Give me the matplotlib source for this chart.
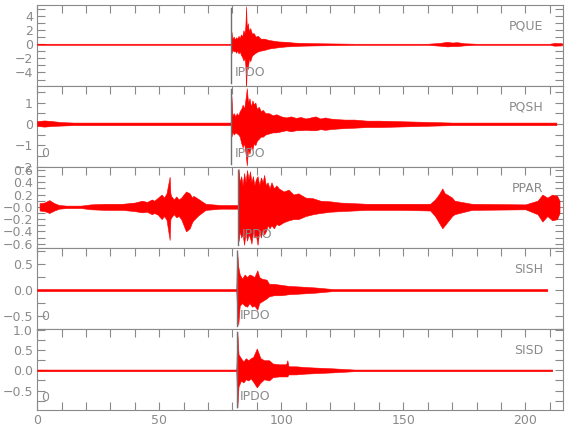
import matplotlib
matplotlib.use('Agg')
import matplotlib.pyplot as plt
from matplotlib.ticker import MultipleLocator

plt.rcParams['font.family'] = ['Liberation Sans Narrow', 'DejaVu Sans']

# estaciones (de arriba hacia abajo)
estaciones = ['PQUE', 'PQSH', 'PPAR', 'SISH', 'SISD']
pick = [79.5, 79.5, 82.4, 81.7, 81.7]  # tiempo de la lectura IPDO (s)

# envolvente de cada traza: tiempo, maximo, minimo
t_pque = [0, 79.3, 79.6, 80.0, 80.5, 81.0, 81.5, 82.0, 82.5, 83.0, 83.5, 84.0, 84.5, 85.0, 85.3, 85.6, 85.9, 86.3, 86.8, 87.3,
          88, 88.7, 89.5, 90.5, 91.5, 93, 95, 97, 99, 102, 105, 108, 115, 130, 160, 165, 168, 170, 172, 175, 180, 210, 212, 215]
up_pque = [0.08, 0.08, 1.8, 0.8, 1.1, 0.7, 1.0, 0.8, 1.2, 0.9, 1.4, 1.1, 2.0, 1.6, 2.6, 5.4, 2.2, 3.0, 1.8, 2.3,
           1.5, 1.6, 1.1, 1.2, 0.8, 0.8, 0.6, 0.5, 0.4, 0.35, 0.25, 0.2, 0.15, 0.08, 0.08, 0.2, 0.35, 0.25, 0.3, 0.15, 0.08, 0.08, 0.2, 0.15]
lo_pque = [-0.08, -0.08, -1.3, -0.8, -1.0, -0.9, -1.2, -0.9, -1.3, -1.0, -1.5, -1.8, -2.3, -2.0, -3.0, -6.5, -2.8, -3.5, -2.0, -2.4,
           -1.6, -1.4, -1.2, -1.0, -0.9, -0.8, -0.6, -0.5, -0.4, -0.3, -0.25, -0.2, -0.15, -0.08, -0.08, -0.2, -0.3, -0.25, -0.25, -0.15, -0.08, -0.08, -0.2, -0.15]

t_pqsh = [0, 3, 6, 10, 15, 79.3, 79.6, 80.0, 80.6, 81.2, 81.8, 82.4, 83.0, 83.6, 84.2, 84.8, 85.4, 85.9, 86.4, 87.0,
          87.6, 88.2, 88.8, 89.4, 90.0, 90.8, 91.6, 92.5, 93.5, 95, 96.5, 98, 100, 102, 104, 106, 108, 110, 112, 114,
          116, 118, 120, 123, 126, 130, 135, 140, 150, 170, 212.7]
up_pqsh = [0.13, 0.16, 0.13, 0.08, 0.06, 0.06, 1.3, 0.4, 0.5, 0.35, 0.5, 0.4, 0.6, 0.7, 0.9, 0.7, 1.2, 1.67, 1.0, 1.2,
           0.8, 1.1, 0.9, 1.0, 0.7, 0.8, 0.6, 0.65, 0.5, 0.5, 0.4, 0.45, 0.35, 0.3, 0.35, 0.28, 0.32, 0.25, 0.3, 0.35,
           0.25, 0.3, 0.25, 0.22, 0.2, 0.2, 0.15, 0.15, 0.12, 0.06, 0.06]
lo_pqsh = [-0.1, -0.13, -0.1, -0.08, -0.06, -0.06, -0.6, -0.4, -0.5, -0.4, -0.45, -0.5, -0.6, -0.9, -1.1, -0.9, -1.4, -1.95, -1.2, -1.4,
           -1.0, -1.2, -0.9, -1.0, -0.8, -0.7, -0.6, -0.6, -0.5, -0.45, -0.4, -0.4, -0.35, -0.3, -0.35, -0.3, -0.3, -0.28, -0.3, -0.3,
           -0.25, -0.28, -0.25, -0.22, -0.2, -0.18, -0.15, -0.15, -0.12, -0.06, -0.06]

# PPAR en tres tramos: antes, evento principal, despues
t_ppar_a = [1, 3, 5, 7, 9, 12, 18, 22, 28, 35, 40, 43, 45, 47, 48, 49.5, 51, 52, 53, 54.3,
            54.6, 55, 56, 57, 58, 59, 60, 61, 62.5, 63.5, 64, 66, 69, 75]
up_ppar_a = [0.06, 0.07, 0.11, 0.06, 0.03, 0.02, 0.02, 0.04, 0.05, 0.05, 0.07, 0.1, 0.08, 0.12, 0.1, 0.15, 0.2, 0.15, 0.22, 0.49,
             0.22, 0.17, 0.12, 0.17, 0.12, 0.15, 0.2, 0.25, 0.22, 0.15, 0.18, 0.13, 0.05, 0.03]
lo_ppar_a = [-0.06, -0.07, -0.1, -0.06, -0.03, -0.02, -0.02, -0.04, -0.05, -0.05, -0.07, -0.09, -0.08, -0.12, -0.1, -0.13, -0.2, -0.15, -0.21, -0.54,
             -0.2, -0.17, -0.12, -0.17, -0.15, -0.2, -0.3, -0.4, -0.35, -0.25, -0.22, -0.14, -0.05, -0.03]
t_ppar_b = [82.2, 82.5, 83.0, 83.6, 84.2, 84.8, 85.4, 86.0, 86.6, 87.2, 87.8, 88.4, 89.0, 89.6, 90.3, 91.0, 91.7, 92.4, 93.0, 93.7,
            94.4, 95.2, 96, 97, 98, 99, 101, 103, 105, 107, 110, 113, 116, 120, 124]
up_ppar_b = [0.03, 0.62, 0.4, 0.5, 0.35, 0.55, 0.4, 0.6, 0.45, 0.58, 0.4, 0.5, 0.35, 0.45, 0.5, 0.35, 0.48, 0.4, 0.52, 0.35,
             0.4, 0.3, 0.4, 0.3, 0.35, 0.3, 0.25, 0.28, 0.2, 0.22, 0.15, 0.14, 0.1, 0.09, 0.07]
lo_ppar_b = [-0.03, -0.56, -0.4, -0.5, -0.45, -0.62, -0.4, -0.55, -0.45, -0.5, -0.6, -0.4, -0.5, -0.45, -0.62, -0.4, -0.5, -0.35, -0.45, -0.4,
             -0.3, -0.35, -0.3, -0.35, -0.28, -0.3, -0.25, -0.22, -0.2, -0.2, -0.15, -0.12, -0.1, -0.08, -0.07]
t_ppar_c = [135, 150, 161, 163, 164.5, 166, 167, 168, 170, 171, 178, 200, 205, 207, 209, 211, 213, 214]
up_ppar_c = [0.05, 0.05, 0.05, 0.12, 0.2, 0.3, 0.22, 0.2, 0.15, 0.1, 0.05, 0.04, 0.1, 0.2, 0.15, 0.2, 0.18, 0.1]
lo_ppar_c = [-0.05, -0.05, -0.06, -0.15, -0.25, -0.35, -0.3, -0.25, -0.15, -0.12, -0.05, -0.04, -0.12, -0.24, -0.15, -0.22, -0.2, -0.1]

t_sish = [0, 81.6, 81.9, 82.4, 83, 84, 85, 86, 87, 88, 89, 90.2, 91, 92, 94, 95, 97, 100, 103, 107, 114, 121, 209]
up_sish = [0.02, 0.02, 0.77, 0.45, 0.3, 0.22, 0.3, 0.25, 0.3, 0.28, 0.25, 0.38, 0.25, 0.22, 0.2, 0.12, 0.12, 0.1, 0.08, 0.07, 0.05, 0.02, 0.02]
lo_sish = [-0.02, -0.02, -0.4, -0.67, -0.3, -0.25, -0.3, -0.32, -0.25, -0.32, -0.3, -0.38, -0.25, -0.22, -0.16, -0.12, -0.1, -0.1, -0.08, -0.07, -0.05, -0.02, -0.02]

t_sisd = [0, 81.6, 82.0, 82.5, 83.5, 84.5, 85.5, 86.5, 87.5, 88.5, 90, 91.5, 93, 95, 96.5, 99, 102, 102.5, 103, 106, 110, 121, 130, 211]
up_sisd = [0.02, 0.02, 0.96, 0.4, 0.3, 0.22, 0.3, 0.25, 0.3, 0.33, 0.54, 0.3, 0.25, 0.25, 0.17, 0.15, 0.15, 0.25, 0.1, 0.1, 0.08, 0.05, 0.02, 0.02]
lo_sisd = [-0.02, -0.02, -0.92, -0.4, -0.25, -0.3, -0.22, -0.25, -0.2, -0.28, -0.42, -0.3, -0.22, -0.25, -0.17, -0.15, -0.15, -0.15, -0.1, -0.1, -0.08, -0.05, -0.02, -0.02]

tiempos = [t_pque, t_pqsh, t_ppar_a + t_ppar_b + t_ppar_c, t_sish, t_sisd]
maximos = [up_pque, up_pqsh, up_ppar_a + up_ppar_b + up_ppar_c, up_sish, up_sisd]
minimos = [lo_pque, lo_pqsh, lo_ppar_a + lo_ppar_b + lo_ppar_c, lo_sish, lo_sisd]

# limites y marcas del eje y
limites = [(-5.9, 5.6), (-2.02, 1.78), (-0.67, 0.65), (-0.75, 0.81), (-0.98, 1.02)]
yticks = [[-4, -2, 0, 2, 4], [-2, -1, 0, 1], [-0.6, -0.4, -0.2, 0.0, 0.2, 0.4, 0.6], [-0.5, 0.0, 0.5], [-0.5, 0.0, 0.5, 1.0]]
yticklabels = [['\u22124', '\u22122', '0', '2', '4'], ['\u22122', '\u22121', '0', '1'],
               ['\u22120.6', '\u22120.4', '\u22120.2', '\u22120.0', '0.2', '0.4', '0.6'],
               ['\u22120.5', '0.0', '0.5'], ['\u22120.5', '0.0', '0.5', '1.0']]
ymenor = [1, 0.5, 0.1, 0.25, 0.25]
cero_texto = [False, True, False, True, True]

gris = '#8a8a8a'
fig, axs = plt.subplots(5, 1, sharex=True, figsize=(5.8, 4.4), dpi=100)
fig.subplots_adjust(left=0.064, right=0.971, bottom=0.068, top=0.989, hspace=0)

for i, ax in enumerate(axs):
    ax.fill_between(tiempos[i], minimos[i], maximos[i], color='red', lw=0.4, zorder=3)
    ax.axvline(pick[i], ymin=0.04, ymax=0.96, color='#707070', lw=1, zorder=4)
    ax.text(pick[i] + 1.3, 0.17, 'IPDO', transform=ax.get_xaxis_transform(), color=gris,
            fontsize=9, va='center', zorder=5)
    ax.text(0.962, 0.74, estaciones[i], transform=ax.transAxes, color=gris, fontsize=9,
            ha='right', va='center')
    if cero_texto[i]:
        ax.text(0.008, 0.16, '0', transform=ax.transAxes, color=gris, fontsize=9, va='center')
    ax.set_ylim(limites[i])
    ax.set_yticks(yticks[i])
    ax.set_yticklabels(yticklabels[i])
    ax.yaxis.set_minor_locator(MultipleLocator(ymenor[i]))
    ax.set_xlim(0, 215.5)
    ax.xaxis.set_major_locator(MultipleLocator(50))
    ax.xaxis.set_minor_locator(MultipleLocator(10))
    ultimo = (i == len(axs) - 1)
    ax.tick_params(which='both', direction='in', length=5.5, width=0.8, color=gris,
                   labelcolor=gris, labelsize=9, left=True, right=True, top=True,
                   bottom=ultimo, pad=3)
    for s in ax.spines.values():
        s.set_color(gris)
        s.set_linewidth(0.8)

plt.savefig('out.png', dpi=100)
